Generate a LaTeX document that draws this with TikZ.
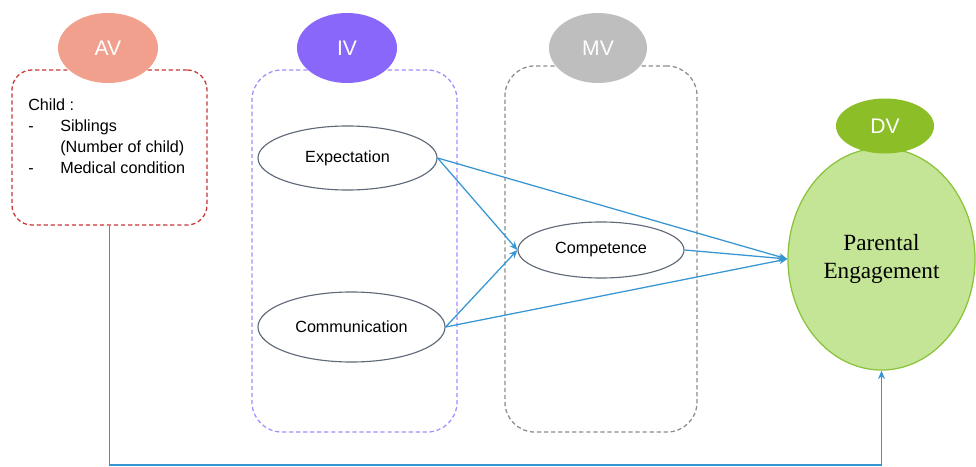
\documentclass[tikz,border=0pt]{standalone}
\usepackage{fontspec}
\setmainfont{Liberation Sans}
\newfontfamily\timesfont{Liberation Serif}
\usepackage{tikz}
\usetikzlibrary{shapes.geometric,arrows.meta}
\definecolor{avred}{RGB}{241,160,142}
\definecolor{avline}{RGB}{200,55,55}
\definecolor{ivpurple}{RGB}{137,103,250}
\definecolor{ivline}{RGB}{165,140,255}
\definecolor{mvgray}{RGB}{190,190,190}
\definecolor{mvline}{RGB}{140,140,140}
\definecolor{dvgreen}{RGB}{140,190,40}
\definecolor{pegreen}{RGB}{196,228,150}
\definecolor{peline}{RGB}{140,195,60}
\definecolor{arrowblue}{RGB}{55,150,210}
\definecolor{ovalline}{RGB}{95,105,120}
\tikzset{
    groupbox/.style={draw, dash pattern=on 3pt off 2pt, line width=0.9pt, inner sep=0pt},
    tag/.style={ellipse, text=white, font=\fontsize{15}{18}\selectfont, inner sep=0pt},
    factor/.style={ellipse, draw=ovalline, line width=0.8pt, fill=white, font=\fontsize{11.5}{14}\selectfont, inner sep=0pt},
    link/.style={arrowblue, line width=0.9pt, -{Stealth[length=6pt,width=5pt]}}
}
\begin{document}
\begin{tikzpicture}[x=0.025cm, y=-0.025cm]
    \useasboundingbox (0,0) rectangle (976,467);
    % group frames
    \node[groupbox, draw=avline, rounded corners=0.5cm, minimum width=4.875cm, minimum height=3.875cm] (avbox) at (109.5,147.5) {};
    \node[groupbox, draw=ivline, rounded corners=0.75cm, minimum width=5.125cm, minimum height=9.05cm] (ivbox) at (354.5,251) {};
    \node[groupbox, draw=mvline, rounded corners=0.75cm, minimum width=4.8cm, minimum height=9.15cm] (mvbox) at (601,249) {};
    % variable tags
    \node[tag, fill=avred, minimum width=2.5cm, minimum height=1.75cm] (av) at (108,48) {AV};
    \node[tag, fill=ivpurple, minimum width=2.5cm, minimum height=1.75cm] (iv) at (347,48) {IV};
    \node[tag, fill=mvgray, minimum width=2.45cm, minimum height=1.75cm] (mv) at (598,48) {MV};
    \node[anchor=north west, inner sep=0pt, font=\fontsize{11.5}{15}\selectfont] (avtext) at (28,95) {
        \begin{tabular}{@{}p{0.8cm}@{}l@{}}
            \multicolumn{2}{@{}l}{Child :}\\
            - & Siblings\\
              & (Number of child)\\
            - & Medical condition
        \end{tabular}
    };
    % factors
    \node[factor, minimum width=4.475cm, minimum height=1.6cm] (expect) at (347.5,158) {Expectation};
    \node[factor, minimum width=4.675cm, minimum height=1.75cm] (commun) at (351.5,327) {Communication};
    \node[factor, minimum width=4.15cm, minimum height=1.4cm] (compet) at (601,250) {Competence};
    \node[ellipse, draw=peline, fill=pegreen, line width=0.9pt, minimum width=4.675cm, minimum height=5.55cm, align=center, font=\timesfont\fontsize{16.5}{20}\selectfont] (pe) at (881.5,259) {Parental\\Engagement};
    \node[tag, fill=dvgreen, minimum width=2.45cm, minimum height=1.375cm] (dv) at (885,126) {DV};
    % links
    \draw[link] (expect.east) -- (pe.west);
    \draw[link] (expect.east) -- (compet.west);
    \draw[link] (commun.east) -- (compet.west);
    \draw[link] (compet.east) -- (pe.west);
    \draw[link] (commun.east) -- (pe.west);
    \coordinate (corner) at (109.5,465);
    \draw[link] (avbox.south) -- (corner) -| (pe.south);
\end{tikzpicture}
\end{document}
